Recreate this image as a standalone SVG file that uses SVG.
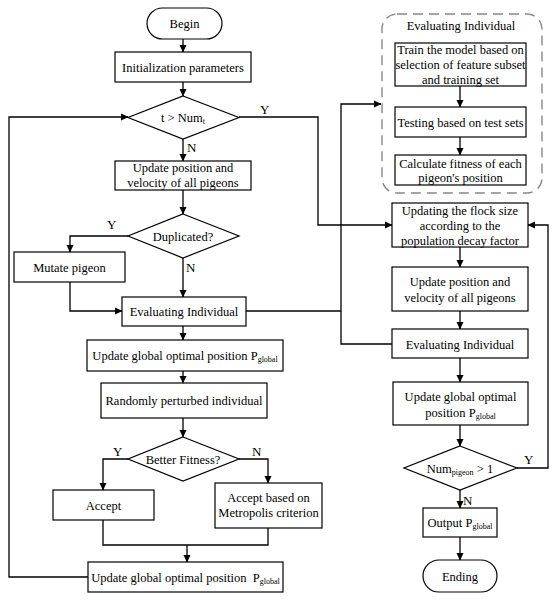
<svg xmlns="http://www.w3.org/2000/svg" width="557" height="600" viewBox="0 0 557 600">
<defs>
<marker id="ah" markerWidth="8" markerHeight="8" refX="7" refY="4" orient="auto" markerUnits="userSpaceOnUse">
<path d="M0,0.5 L7.5,4 L0,7.5 Z" fill="#000"/>
</marker>
<style>
.box{fill:#fff;stroke:#000;stroke-width:1.2}
.t{font-family:"Liberation Serif","Times New Roman",serif;font-size:12.5px;fill:#000;text-anchor:middle}
.lb{font-family:"Liberation Serif","Times New Roman",serif;font-size:13px;fill:#000}
.sub{font-size:8px}
.c{fill:none;stroke:#000;stroke-width:1.3}
.ca{fill:none;stroke:#000;stroke-width:1.3;marker-end:url(#ah)}
.dash{fill:none;stroke:#888;stroke-width:1.4;stroke-dasharray:10 6}
</style>
</defs>
<rect width="557" height="600" fill="#fff"/>

<g id="connectors">
<path class="ca" d="M183,39 V52"/>
<path class="ca" d="M183,82 V96"/>
<path class="ca" d="M183,139 V161"/>
<path class="ca" d="M183,190 V214"/>
<path class="ca" d="M128,236 H70 V252"/>
<path class="ca" d="M183,258 V297"/>
<path class="ca" d="M70,282 V311 H122"/>
<path class="ca" d="M183,326 V340"/>
<path class="ca" d="M183,371 V383"/>
<path class="ca" d="M183,418 V437"/>
<path class="ca" d="M128,459 H103 V490"/>
<path class="ca" d="M239,459 H268 V483"/>
<path class="c" d="M103,520 V545 H268 V528"/>
<path class="ca" d="M187,545 V562"/>
<path class="ca" d="M88,577 H9 V117 H128"/>
<path class="ca" d="M239,117 H318 V225 H392"/>
<path class="c" d="M246,311 H341"/>
<path class="ca" d="M392,344 H341 V104 H381"/>
<path class="ca" d="M460,86 V107"/>
<path class="ca" d="M460,137 V155"/>
<path class="ca" d="M460,247 V267"/>
<path class="ca" d="M460,311 V329"/>
<path class="ca" d="M460,358 V382"/>
<path class="ca" d="M460,425 V446"/>
<path class="ca" d="M460,490 V508"/>
<path class="ca" d="M460,537 V560"/>
<path class="ca" d="M517,468 H548 V225 H528"/>
<text class="lb" x="187" y="152">N</text>
<text class="lb" x="260" y="114">Y</text>
<text class="lb" x="107" y="229">Y</text>
<text class="lb" x="186" y="272">N</text>
<text class="lb" x="113" y="456">Y</text>
<text class="lb" x="252" y="456">N</text>
<text class="lb" x="524" y="464">Y</text>
<text class="lb" x="463" y="505">N</text>
</g>

<g id="begin"><rect class="box" x="147" y="8" width="75" height="31" rx="15.5"/><text class="t" x="184.5" y="28">Begin</text></g>
<g id="init"><rect class="box" x="115" y="52" width="136" height="30"/><text class="t" x="183" y="71.5">Initialization parameters</text></g>
<g id="cond-t"><polygon class="box" points="183,96 239,117.5 183,139 128,117.5"/><text class="t" x="183" y="122">t &gt; Num<tspan class="sub" dy="2">t</tspan></text></g>
<g id="update-pos-left"><rect class="box" x="115" y="161" width="136" height="29"/><text class="t" x="183" y="172">Update position and</text><text class="t" x="183" y="186.5">velocity of all pigeons</text></g>
<g id="duplicated"><polygon class="box" points="183,214 239,236 183,258 128,236"/><text class="t" x="183" y="240.5">Duplicated?</text></g>
<g id="mutate"><rect class="box" x="14" y="252" width="111" height="30"/><text class="t" x="69.5" y="271.5">Mutate pigeon</text></g>
<g id="eval-left"><rect class="box" x="122" y="297" width="124" height="29"/><text class="t" x="184" y="315.5">Evaluating Individual</text></g>
<g id="update-global-1"><rect class="box" x="87" y="340" width="196" height="31"/><text class="t" x="185" y="360">Update global optimal position P<tspan class="sub" dy="2">global</tspan></text></g>
<g id="perturb"><rect class="box" x="101" y="383" width="166" height="35"/><text class="t" x="184" y="405">Randomly perturbed individual</text></g>
<g id="better"><polygon class="box" points="183,437 239,459 183,481 128,459"/><text class="t" x="183" y="463.5">Better Fitness?</text></g>
<g id="accept"><rect class="box" x="53" y="490" width="101" height="30"/><text class="t" x="103.5" y="509.5">Accept</text></g>
<g id="metropolis"><rect class="box" x="215" y="483" width="107" height="45"/><text class="t" x="268.5" y="502">Accept based on</text><text class="t" x="268.5" y="517">Metropolis criterion</text></g>
<g id="update-global-2"><rect class="box" x="88" y="562" width="195" height="30"/><text class="t" x="185.5" y="581.5" xml:space="preserve">Update global optimal position  P<tspan class="sub" dy="2">global</tspan></text></g>

<g id="eval-group"><rect class="dash" x="382" y="14" width="160" height="179" rx="15"/><text class="t" x="461" y="30">Evaluating Individual</text></g>
<g id="train"><rect class="box" x="395" y="43" width="131" height="43"/><text class="t" x="460.5" y="54">Train the model based on</text><text class="t" x="460.5" y="69">selection of feature subset</text><text class="t" x="460.5" y="83.5">and training set</text></g>
<g id="testing"><rect class="box" x="395" y="107" width="131" height="30"/><text class="t" x="460.5" y="126.5">Testing based on test sets</text></g>
<g id="calc"><rect class="box" x="395" y="155" width="131" height="30"/><text class="t" x="460.5" y="167.5">Calculate fitness of each</text><text class="t" x="460.5" y="182">pigeon's position</text></g>

<g id="flock"><rect class="box" x="392" y="203" width="136" height="44"/><text class="t" x="460" y="215">Updating the flock size</text><text class="t" x="460" y="230">according to the</text><text class="t" x="460" y="245">population decay factor</text></g>
<g id="update-pos-right"><rect class="box" x="392" y="267" width="136" height="44"/><text class="t" x="460" y="286">Update position and</text><text class="t" x="460" y="301.5">velocity of all pigeons</text></g>
<g id="eval-right"><rect class="box" x="392" y="329" width="136" height="29"/><text class="t" x="460" y="348.5">Evaluating Individual</text></g>
<g id="update-global-3"><rect class="box" x="393" y="382" width="135" height="43"/><text class="t" x="460.5" y="401">Update global optimal</text><text class="t" x="460.5" y="417">position P<tspan class="sub" dy="2">global</tspan></text></g>
<g id="cond-num"><polygon class="box" points="460,446 517,468 460,490 404,468"/><text class="t" x="460" y="472.5">Num<tspan class="sub" dy="2">pigeon</tspan><tspan dy="-2"> &gt; 1</tspan></text></g>
<g id="output"><rect class="box" x="423" y="508" width="74" height="29"/><text class="t" x="460" y="527">Output P<tspan class="sub" dy="2">global</tspan></text></g>
<g id="ending"><rect class="box" x="423" y="560" width="74" height="32" rx="16"/><text class="t" x="460" y="580.5">Ending</text></g>
</svg>
